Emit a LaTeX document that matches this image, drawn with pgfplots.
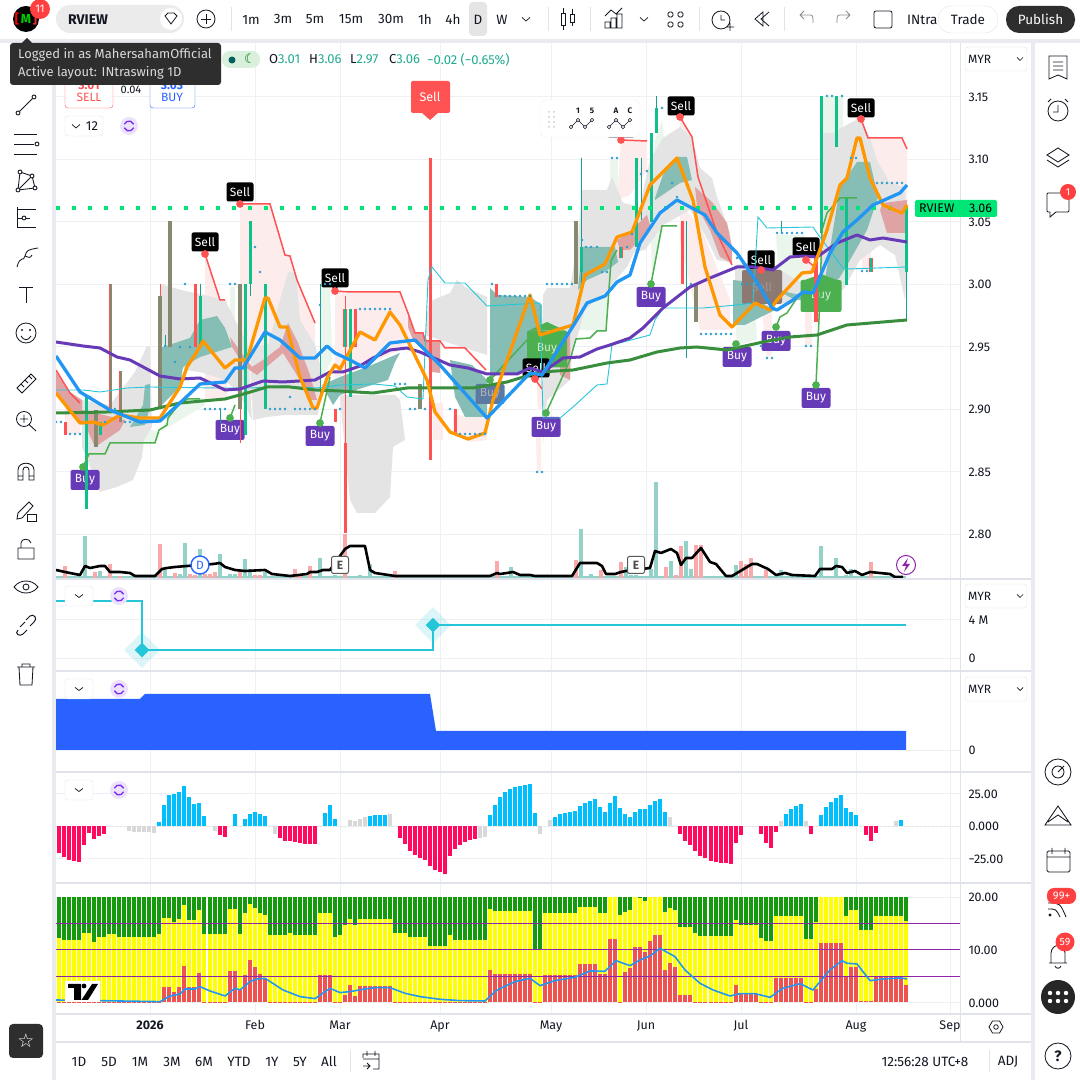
\documentclass[border=0pt]{standalone}
\usepackage{fontspec}
\usepackage{pgfplots}
\usepackage{pgfplotstable}
\pgfplotsset{compat=1.18}
\setmainfont{Fira Sans}
\newfontfamily\djv{DejaVu Sans}
\newcommand{\fs}[1]{\fontsize{#1}{#1}\selectfont}
\definecolor{gridc}{HTML}{EEF0F4}
\definecolor{sep}{HTML}{E0E3EB}
\definecolor{ink}{HTML}{131722}
\definecolor{cgrey}{HTML}{E4E4E4}
\definecolor{cteal}{HTML}{86BEB6}
\definecolor{cred}{HTML}{DFA3A3}
\definecolor{cpink}{HTML}{FDECEC}
\definecolor{clg}{HTML}{EAF5EC}
\definecolor{lblue}{HTML}{2196F3}
\definecolor{lorange}{HTML}{FF9800}
\definecolor{lpurple}{HTML}{673AB7}
\definecolor{lgreen}{HTML}{388E3C}
\definecolor{lcyan}{HTML}{26C6DA}
\definecolor{sred}{HTML}{FF5252}
\definecolor{sgreen}{HTML}{4CAF50}
\definecolor{cand}{HTML}{0FBF8C}
\definecolor{wick}{HTML}{1B9E8F}
\definecolor{vteal}{HTML}{92D2C8}
\definecolor{vred}{HTML}{F9A9A9}
\definecolor{dots}{HTML}{2A9FCF}
\definecolor{tealtxt}{HTML}{22AB94}
\definecolor{hpink}{HTML}{FF0A5F}
\definecolor{hcyan}{HTML}{00BFFF}
\definecolor{hgrey}{HTML}{D8D8DA}
\definecolor{byel}{HTML}{FFFF00}
\definecolor{bgreen}{HTML}{149A0C}
\definecolor{bred}{HTML}{EF5350}
\definecolor{purp}{HTML}{8E24AA}
\definecolor{blue2}{HTML}{2962FF}
\definecolor{syncp}{HTML}{7B2FF0}
\pgfplotsset{pane/.style={anchor=south west,scale only axis,width=904pt,xmin=56,xmax=960,
 xtick={150,255,340,440,551,646,741,856,950},xticklabels=\empty,
 xmajorgrids,ymajorgrids,grid style={color=gridc,line width=.8pt},
 axis line style={draw=none},major tick length=0pt,ytick pos=right,yticklabel pos=right,
 yticklabel style={font=\fs{12.5},text=ink,xshift=5pt,yshift=-.7pt,anchor=west},
 unbounded coords=jump,clip=true}}
\newcommand{\fillP}[2]{\addplot[fill=#1,draw=none,forget plot] coordinates {#2} -- cycle;}
\newcommand{\SellL}[2]{\node[fill=black,rounded corners=2pt,text=white,font=\fs{12},minimum width=27pt,minimum height=19pt,inner sep=0pt] at (axis cs:#1,#2) {Sell};
 \fill[black] (axis cs:#1,#2) ++(-3pt,-9pt) -- ++(6pt,0pt) -- ++(-3pt,-3pt) -- cycle;}
\newcommand{\BuyL}[2]{\node[fill=lpurple,rounded corners=2pt,text=white,font=\fs{12},minimum width=29pt,minimum height=20pt,inner sep=0pt] at (axis cs:#1,#2) {Buy};}
\pgfplotstableread[row sep=\\]{i y r\\
0 12.2 .15\\1 11.8 .15\\2 11.8 .15\\3 11.8 .15\\4 11.8 .15\\5 13.1 .15\\6 13.1 .15\\7 11.5 .15\\8 12.4 .15\\9 12.4 .15\\
10 13 .15\\11 13 .15\\12 12.4 .15\\13 12.4 .15\\14 12.4 .15\\15 12.4 .15\\16 12.4 .15\\17 12.4 .15\\18 12.4 .15\\19 12.4 .15\\
20 13 .15\\21 16 2.9\\22 16 2.9\\23 15.3 2\\24 15.8 2.9\\25 18.5 6.9\\26 15.6 2.9\\27 15.6 2.9\\28 17.5 5.6\\29 13 .15\\
30 13 .15\\31 13 .15\\32 13 .15\\33 13 .15\\34 17.7 6\\35 17.7 6\\36 13 2.5\\37 17 5.2\\38 18.7 8\\39 17.9 6.7\\
40 17 5.3\\41 16.6 4.6\\42 12.8 .15\\43 12.8 .15\\44 12.8 .15\\45 12.8 .15\\46 13.2 .15\\47 12.8 .15\\48 12.8 .15\\49 12.8 .15\\
50 12.8 .15\\51 12.8 .15\\52 17 5.2\\53 17 5.2\\54 17 5.2\\55 12.4 .15\\56 12.8 .15\\57 14.7 1.4\\58 15.8 3.3\\59 14.7 1.2\\
60 15.8 3.1\\61 15.8 3.1\\62 15.8 3.1\\63 15.8 3.1\\64 15.8 3.1\\65 15.8 3.1\\66 15.8 3.1\\67 13.2 .15\\68 13.2 .15\\69 13.2 .15\\
70 12.4 .15\\71 12.4 .15\\72 12.4 .15\\73 12.4 .15\\74 10.7 .15\\75 10.7 .15\\76 10.7 .15\\77 10.7 .15\\78 12.8 .15\\79 11.8 .15\\
80 11.8 .15\\81 11.8 .15\\82 11.8 .15\\83 11.8 .15\\84 11.8 .15\\85 11.8 .15\\86 17.7 6.1\\87 17.3 5.4\\88 17.3 5.4\\89 17.3 5.4\\
90 17.3 5.4\\91 17.3 5.4\\92 17.3 5.4\\93 17.3 5.4\\94 17.3 5.4\\95 10.1 .15\\96 10.1 .15\\97 17 5.2\\98 17 5.2\\99 17 5.2\\
100 17 5.2\\101 17 5.2\\102 17 5.2\\103 17 5.2\\104 18.1 7.2\\105 18.1 7.2\\106 18.1 7.2\\107 18.1 7.2\\108 17 5.4\\109 17 5.4\\
110 20 12\\111 20 12\\112 16.6 .15\\113 17.2 5.7\\114 17.5 6.5\\115 20 10.5\\116 19.8 10.5\\117 19.2 9.6\\118 20 11.6\\119 20 12.8\\
120 20 12.8\\121 17.2 6.1\\122 17.9 7.5\\123 17.5 6.7\\124 14.3 1.4\\125 14.3 1.4\\126 14.3 1.4\\127 13.2 .15\\128 12.6 .15\\129 12.6 .15\\
130 12.6 .15\\131 12.6 .15\\132 12.6 .15\\133 12.6 .15\\134 12.6 .15\\135 15.6 3.3\\136 14.7 1.6\\137 14.7 1.6\\138 14.7 1.6\\139 14.7 1.6\\
140 12.2 .15\\141 11.6 .15\\142 11.6 .15\\143 16.4 4.6\\144 16.4 4.6\\145 16.4 4.6\\146 16.4 4.6\\147 16.4 4.6\\148 16.4 4.6\\149 12 .15\\
150 12 .15\\151 15.3 2.5\\152 20 11.2\\153 20 11.2\\154 20 11.2\\155 20 11.2\\156 20 11.2\\157 16.4 4.8\\158 17.5 6.7\\159 17.5 6.7\\
160 13.7 .25\\161 13.7 .25\\162 13.7 .25\\163 16.4 4.8\\164 16.4 4.8\\165 16.4 4.8\\166 16.4 4.8\\167 16.4 4.8\\168 16.4 4.8\\169 15.4 3.3\\
}\sentiment
\begin{document}
\begin{tikzpicture}[x=1pt,y=1pt]
\clip (0,0) rectangle (1080pt,1080pt);
\fill[white] (0,0) rectangle (1080pt,1080pt);
% ===== main price pane =====
\begin{axis}[pane,at={(56pt,502pt)},height=536pt,ymin=2.7648,ymax=3.1936,
 ytick={2.8,2.85,2.9,2.95,3,3.05,3.1,3.15},yticklabels={2.80,2.85,2.90,2.95,3.00,3.05,3.10,3.15}]
% pink
\fillP{cpink}{(240,3.064)(270,3.064)(285,3.0232)(290,3.0224)(297,3.0032)(315,2.9688)(315,2.9072)(245,2.9072)(240,2.9872)}
\fillP{cpink}{(205,3.024)(220,2.9872)(227,2.9872)(227,2.9072)(205,2.9072)}
\fillP{cpink}{(335,2.9944)(400,2.9936)(408,2.9768)(415,2.9608)(400,2.9472)(335,2.9248)}
\fillP{cpink}{(433,2.9048)(443,2.9048)(443,2.8752)(433,2.8752)}
\fillP{cpink}{(453,2.8952)(487,2.8936)(487,2.8752)(470,2.8736)(453,2.8832)}
\fillP{cpink}{(621,3.1152)(647,3.1144)(647,3.0912)(630,3.0712)(617,3.0672)}
\fillP{cpink}{(680,3.1336)(692,3.1176)(700,3.0912)(690,3.0632)(680,3.0632)}
\fillP{cpink}{(680,3.0632)(700,3.0472)(730,2.9872)(730,2.9632)(700,2.9632)(680,3.0352)}
\fillP{cpink}{(761,2.9872)(772,2.9872)(772,2.9432)(767,2.9416)}
\fillP{cpink}{(805,3.0208)(812,3.0208)(812,2.9512)(805,2.9512)}
\fillP{cpink}{(862,3.0376)(872,3.0352)(870,3.0112)(862,3.0112)}
\fillP{cpink}{(861,3.132)(868,3.1168)(902,3.1168)(907,3.108)(907,3.0672)(890,3.0808)(877,3.0992)}
\fillP{cpink}{(536,2.9288)(542,2.9288)(542,2.8992)(538,2.8992)}
\fillP{cpink}{(536,2.8776)(541,2.8776)(541,2.8504)(537,2.8504)}
\fillP{cpink}{(65,2.9072)(80,2.8888)(80,2.88)(65,2.88)}
% light green
\fillP{clg}{(230,2.9976)(235,2.9976)(235,2.9288)(230,2.9288)}
\fillP{clg}{(110,2.8728)(155,2.8728)(168,2.8928)(185,2.9072)(205,2.9088)(205,2.9032)(160,2.8816)(110,2.8912)}
\fillP{clg}{(320,2.9992)(330,2.9992)(332,2.9392)(320,2.9232)}
\fillP{clg}{(578,2.9632)(606,2.9624)(612,3.0192)(617,3.0272)(617,3.0176)(605,3.0096)(580,3.0008)}
\fillP{clg}{(610,3.0992)(618,3.0992)(617,3.0352)(610,3.0192)}
\fillP{clg}{(655,3.1152)(662,3.1312)(666,3.0992)(662,3.0464)(652,3.0032)(650,3.0752)}
\fillP{clg}{(735,2.9712)(755,2.9792)(757,2.9552)(737,2.9512)}
\fillP{clg}{(776,3.0392)(805,3.0392)(805,2.9992)(780,2.9872)}
\fillP{clg}{(822,3.1504)(843,3.1504)(843,3.1256)(822,3.1152)}
% grey
\fillP{cgrey}{(82,2.9072)(110,2.9032)(135,2.9296)(147,2.9504)(150,2.9496)(152,2.8856)(144,2.8752)(142,2.8616)(133,2.8432)(117,2.8376)(100,2.8336)(82,2.8696)}
\fillP{cgrey}{(160,3)(185,2.9944)(200,2.992)(225,2.9872)(235,2.9712)(248,2.9512)(252,2.8912)(240,2.9112)(225,2.9232)(200,2.9296)(185,2.9312)(165,2.9512)(160,2.9512)}
\fillP{cgrey}{(250,2.9504)(268,2.9512)(280,2.9872)(288,3.0096)(296,3.0088)(300,2.9712)(315,2.9512)(322,2.9296)(318,2.8952)(285,2.8952)(267,2.8936)(253,2.8912)}
\fillP{cgrey}{(340,2.9112)(395,2.9112)(400,2.9072)(405,2.8752)(393,2.8696)(390,2.8296)(375,2.8168)(357,2.8168)(350,2.8272)(343,2.8832)}
\fillP{cgrey}{(428,2.9816)(433,2.9872)(450,2.9928)(457,3.0032)(465,2.9976)(487,2.9896)(487,2.9432)(465,2.9488)(440,2.9552)(425,2.9592)}
\fillP{cgrey}{(543,2.9912)(547,2.9968)(570,2.9968)(578,3.0352)(582,3.0752)(607,3.0752)(612,3.0856)(623,3.0648)(640,3.0616)(640,3.0352)(627,3.0136)(607,2.9952)(585,2.9792)(572,2.9432)(570,2.9232)(547,2.9072)(543,2.8712)}
\fillP{cgrey}{(630,3.0248)(640,3.0632)(650,3.0992)(663,3.1168)(680,3.1256)(692,3.1168)(700,3.0928)(712,3.0848)(717,3.0696)(730,3.0408)(732,3.0168)(717,3.0192)(705,3.0392)(690,3.0592)(663,3.0472)(645,3.0272)}
\fillP{cgrey}{(820,2.9872)(822,3.1208)(833,3.1208)(843,3.1256)(860,3.1328)(870,3.1168)(877,3.0992)(890,3.0808)(905,3.0776)(907,3.0112)(905,2.9872)(895,3.0232)(880,3.0312)(860,3.0192)(843,2.9952)}
\fillP{cgrey}{(735,3.0152)(755,3.0176)(780,3.0112)(805,2.9992)(800,2.9872)(775,2.9832)(735,2.9952)}
% teal
\fillP{cteal}{(130,2.8856)(143,2.9032)(145,2.9192)(150,2.92)(150,2.9016)(145,2.8872)}
\fillP{cteal}{(160,2.9488)(190,2.9568)(200,2.9712)(217,2.9744)(225,2.9648)(232,2.9496)(200,2.9416)(183,2.9336)(180,2.9176)(160,2.9016)}
\fillP{cteal}{(322,2.9192)(340,2.9256)(367,2.9336)(400,2.9448)(395,2.9376)(388,2.9232)(340,2.9112)(333,2.9032)}
\fillP{cteal}{(450,2.9392)(472,2.9352)(487,2.9232)(487,2.8936)(465,2.8936)(455,2.9096)}
\fillP{cteal}{(490,2.9968)(497,2.9912)(530,2.9896)(542,2.9832)(543,2.9392)(533,2.9296)(500,2.928)(490,2.9248)}
\fillP{cteal}{(578,2.9952)(582,3.0296)(615,3.0296)(618,3.0176)(605,3.0096)(587,3.0032)}
\fillP{cteal}{(655,3.0688)(663,3.0872)(677,3.1016)(687,3.1016)(692,3.0832)(680,3.0808)(655,3.0672)}
\fillP{cteal}{(733,3.0032)(760,3.0008)(765,2.9832)(775,2.9792)(745,2.9672)(733,2.9672)}
\fillP{cteal}{(777,2.9952)(800,2.9912)(812,2.9872)(795,2.9872)}
\fillP{cteal}{(823,2.9936)(840,3.0776)(857,3.0976)(870,3.0976)(878,3.0696)(867,3.0432)(850,3.0192)(840,3.0056)(827,2.9952)}
% red
\fillP{cred}{(56,2.9296)(70,2.9136)(82,2.9072)(82,2.8992)(125,2.8912)(120,2.8832)(95,2.8696)(85,2.8872)(80,2.8888)(56,2.9128)}
\fillP{cred}{(230,2.9576)(252,2.9336)(263,2.9392)(280,2.9496)(288,2.9688)(298,2.9528)(310,2.9272)(317,2.9072)(308,2.9072)(300,2.9232)(283,2.9448)(257,2.9272)(245,2.9336)(232,2.9496)}
\fillP{cred}{(408,2.9768)(415,2.9608)(423,2.9608)(427,2.9552)(440,2.9544)(440,2.9288)(432,2.9296)(427,2.9448)(413,2.9552)(408,2.9656)}
\fillP{cred}{(617,3.0352)(630,3.0416)(647,3.0552)(650,3.0472)(640,3.0352)(630,3.0272)(620,3.0272)}
\fillP{cred}{(695,3.0776)(712,3.0656)(727,3.0488)(732,3.0296)(732,3.0168)(720,3.0216)(710,3.0432)(697,3.0616)}
\fillP{sred}{(761,3.0112)(781,3.0112)(781,2.9936)(761,2.9936)}
\fillP{cred}{(883,3.0648)(907,3.0672)(907,3.0408)(887,3.0408)(880,3.0592)}
\fillP{cred}{(560,2.9552)(570,2.9608)(570,2.9232)(560,2.9272)}
% labels
\fillP{sgreen}{(530,2.9632)(547,2.9696)(564,2.9632)}
\fillP{sgreen}{(805,3.0032)(821,3.008)(837,3.0032)}
\node[fill={rgb,255:red,76;green,175;blue,80},rounded corners=2pt,text=white!75!sgreen,font=\fs{12},minimum width=40pt,minimum height=37pt,inner sep=0pt] at (axis cs:547,2.948) {Buy};
\node[fill={rgb,255:red,76;green,175;blue,80},rounded corners=2pt,text=white!75!sgreen,font=\fs{12},minimum width=41pt,minimum height=32pt,inner sep=0pt] at (axis cs:821,2.9904) {Buy};
\node[fill={rgb,255:red,140;green,122;blue,114},rounded corners=2pt,text=white!60!black,font=\fs{12},minimum width=40pt,minimum height=34pt,inner sep=0pt] at (axis cs:762,2.9976) {Sell};
\node[fill={rgb,255:red,91;green,121;blue,163},rounded corners=2pt,text=white!70!black,font=\fs{12},minimum width=29pt,minimum height=20pt,inner sep=0pt] at (axis cs:490,2.912) {Buy};
\BuyL{85}{2.8432}\BuyL{230}{2.8832}\BuyL{320}{2.8784}\BuyL{546}{2.8856}\BuyL{651}{2.9896}\BuyL{737}{2.9416}\BuyL{776}{2.9544}\BuyL{816}{2.9088}
\SellL{205}{3.0336}\SellL{240}{3.0736}\SellL{335}{3.0048}\SellL{536}{2.9328}\SellL{621}{3.1248}\SellL{681}{3.1424}\SellL{761}{3.0192}\SellL{806}{3.0296}\SellL{861}{3.1408}
% candles
\addplot[color=wick,line width=1pt,forget plot] coordinates {(200,3)(200,2.99)(200,nan)(250,3)(250,2.9904)(250,nan)(320,3)(320,2.9096)(320,nan)(581,3.1008)(581,3.0008)(581,nan)(641,3.1008)(641,3.0512)(641,nan)(656,3.1504)(656,3.1408)(656,nan)(686,3.0504)(686,2.9408)(686,nan)(781,3.0504)(781,3.0408)(781,nan)(906,3.0096)(906,2.9712)(906,nan)(165,2.9592)(165,2.9496)(165,nan)(220,2.9)(220,2.8888)};
\addplot[color=sred,line width=1pt,forget plot] coordinates {(160,3)(160,2.9904)(160,nan)(240,2.9)(240,2.8728)(240,nan)(345,2.9904)(345,2.8008)(345,nan)(816,3.0208)(816,2.9696)};
\addplot[color=cand,line width=3pt,forget plot] coordinates {(86,2.9096)(86,2.82)(86,nan)(100,2.8896)(100,2.8792)(100,nan)(200,2.9904)(200,2.9496)(200,nan)(245,3)(245,2.8792)(245,nan)(250,3.0504)(250,3)(250,nan)(265,3)(265,2.9)(265,nan)(350,2.98)(350,2.9096)(350,nan)(581,3.0296)(581,3.0096)(581,nan)(636,3.1008)(636,3.0296)(636,nan)(651,3.1208)(651,3.0496)(651,nan)(656,3.1408)(656,3.1208)(656,nan)(821,3.1504)(821,3.0408)(821,nan)(836,3.1504)(836,3.1096)(836,nan)(846,3.0696)(846,2.9992)(846,nan)(906,3.0592)(906,3.0096)};
\addplot[color=sred,line width=3.2pt,forget plot] coordinates {(110.6,3)(110.6,2.9)(110.6,nan)(120.6,2.9304)(120.6,2.8896)(120.6,nan)(96,2.8992)(96,2.8696)(96,nan)(160,2.9904)(160,2.9)(160,nan)(170,3.0504)(170,2.9496)(170,nan)(195.6,3)(195.6,2.9496)(195.6,nan)(240,3)(240,2.9)(240,nan)(345,2.98)(345,2.9496)(345,nan)(420,2.92)(420,2.9)(420,nan)(576,3.0504)(576,3)(576,nan)(621,3.0296)(621,3.0208)(621,nan)(696,3)(696,2.9696)(696,nan)(816,3.0208)(816,2.9696)(816,nan)(871,3.0208)(871,3.0096)};
\addplot[color=cand,line width=1.6pt,forget plot] coordinates {(110.6,3)(110.6,2.9)(110.6,nan)(120.6,2.9304)(120.6,2.8896)(120.6,nan)(96,2.8992)(96,2.8696)(96,nan)(160,2.9904)(160,2.9)(160,nan)(170,3.0504)(170,2.9496)(170,nan)(240,3)(240,2.9)(240,nan)(345,2.98)(345,2.9496)(345,nan)(420,2.92)(420,2.9)(420,nan)(576,3.0504)(576,3)(576,nan)(621,3.0296)(621,3.0208)(621,nan)(696,3)(696,2.9696)(696,nan)(871,3.0208)(871,3.0096)};
\addplot[color=sred,line width=3pt,forget plot] coordinates {(65,2.8896)(65,2.8792)(65,nan)(335,2.9)(335,2.8896)(335,nan)(355,2.98)(355,2.9496)(355,nan)(430,3.1008)(430,2.8592)(430,nan)(455,2.9)(455,2.8792)(455,nan)(496,3)(496,2.9896)(496,nan)(682,3.0504)(682,3)(682,nan)(345,2.8728)(345,2.8008)};
% dots
\addplot[only marks,mark=*,mark size=1.2pt,color=dots,mark options={draw=none},forget plot] coordinates {(56,2.8896)(61,2.8896)(70,2.88)(75,2.88)(80,2.88)(90,2.9096)(105,2.8896)(115,2.9)(125,2.8896)(130,2.8896)(165,2.9504)(175,2.9376)(180,2.9496)(190,2.9496)(185,3)(230,3)(235,3)(255,3.0296)(260,3.0096)(205,2.9)(210,2.9)(215,2.9)(220,2.9)(225,2.9)(270,2.9)(275,2.9)(280,2.9)(285,2.9)(295,2.9)(300,2.9)(305,2.9)(310,2.9)(315,2.9)(320,2.9832)(325,3)(330,3)(290,2.9096)(340,2.9)(360,2.98)(365,2.98)(370,2.98)(375,2.98)(380,2.98)(385,2.98)(390,2.98)(395,2.92)(400,2.92)(405,2.92)(410,2.9)(415,2.9)(425,2.9)(450,2.9)(460,2.88)(465,2.88)(470,2.88)(475,2.88)(480,2.88)(485,2.88)(492,3)(500,2.9904)(505,2.9904)(510,2.9904)(515,2.9904)(520,2.9904)(525,2.9904)(530,2.9904)(547,3)(552,3)(557,3)(562,3)(567,3)(572,3)(582,3.0352)(586,3.0296)(591,3.0296)(597,3.0296)(602,3.0096)(607,3.0096)(612,3.1008)(617,3.1008)(627,3.0296)(632,3.04)(537,2.8496)(542,2.8496)(641,3.088)(647,3.0904)(662,3.1408)(672,3.0808)(677,3.0696)(691,3)(701,2.96)(706,2.96)(711,2.96)(716,2.96)(721,2.96)(726,2.96)(731,2.96)(737,3.0208)(742,3)(747,3)(752,3)(761,2.9504)(767,2.9408)(772,2.9408)(777,3.0408)(782,3.0408)(787,3.0408)(792,3.0408)(797,3.0408)(802,3.0408)(806,2.9504)(811,2.9504)(827,3.1504)(832,3.1504)(842,3.1504)(851,3.1008)(856,3.1008)(862,3.0104)(867,3.0104)(877,3.0808)(882,3.0808)(887,3.0808)(892,3.0808)(897,3.0808)(902,3.0808)};
% 3.06 level
\addplot[color={rgb,255:red,0;green,230;blue,118},line width=4pt,dash pattern=on 4pt off 12pt,forget plot] coordinates {(56,3.0608)(960,3.0608)};
% trailing lines
\addplot[color=sred,line width=1.5pt,forget plot] coordinates {(56,2.9312)(70,2.9128)(80,2.9048)(80,nan)(205,3.024)(220,2.9872)(225,2.9872)(225,nan)(240,3.064)(270,3.064)(285,3.0232)(290,3.0224)(297,3.0032)(315,2.9688)(315,nan)(335,2.9944)(350,2.9936)(400,2.9936)(408,2.9768)(415,2.9608)(423,2.9608)(425,2.9544)(440,2.9544)(445,2.9488)(465,2.9488)(486,2.9312)(486,nan)(535,2.924)(542,2.916)(542,nan)(621,3.1152)(647,3.1144)(647,nan)(680,3.1336)(692,3.1176)(698,3.0856)(717,3.0408)(732,3.0152)(732,nan)(806,3.0192)(815,3.0136)(815,nan)(861,3.132)(868,3.1168)(902,3.1168)(907,3.108)};
\addplot[color=sgreen,line width=1.5pt,forget plot] coordinates {(83,2.8536)(89,2.864)(105,2.864)(110,2.8728)(155,2.8728)(159,2.8832)(167,2.8872)(168,2.8928)(180,2.9048)(188,2.908)(200,2.908)(200,nan)(230,2.8928)(235,2.9032)(235,nan)(320,2.8888)(330,2.9256)(330,nan)(490,2.9232)(527,2.9552)(527,nan)(546,2.8968)(570,2.9392)(576,2.956)(590,2.9568)(597,2.9624)(606,2.9624)(611,3.0184)(617,3.0272)(617,nan)(651,3)(662,3.0464)(677,3.0464)(677,nan)(776,2.9656)(780,2.9736)(787,2.9768)(797,2.9888)(797,nan)(816,2.9192)(820,2.9896)(822,3.0432)(827,3.0568)(840,3.0688)(857,3.0688)};
\addplot[only marks,mark=*,mark size=3.6pt,color=sred,mark options={draw=none},forget plot] coordinates {(205,3.024)(240,3.064)(335,2.9944)(535,2.924)(621,3.1152)(680,3.1336)(761,3.0112)(806,3.0192)(861,3.132)};
\addplot[only marks,mark=*,mark size=3.6pt,color=sgreen,mark options={draw=none},forget plot] coordinates {(83,2.8536)(230,2.8928)(320,2.8888)(490,2.9232)(546,2.8968)(651,3)(736,2.952)(776,2.9656)(816,2.9192)};
% thin channel
\addplot[color=lcyan,line width=.9pt,forget plot] coordinates {(56,2.9152)(83,2.9152)(100,2.9136)(127,2.9168)(150,2.9176)(217,2.9168)(250,2.9168)(283,2.9184)(317,2.9168)(340,2.9192)(373,2.92)(395,2.9184)(407,2.9096)(423,2.908)(428,3.0032)(432,3.0136)(445,3.0008)(465,3.0008)(487,2.9824)(540,2.9848)(543,2.8928)(560,2.8928)(573,2.9016)(597,2.9192)(607,2.92)(612,2.9512)(650,2.9592)(655,2.9712)(663,2.9808)(703,2.9808)(737,2.9832)(753,2.9848)(758,3.0536)(767,3.0448)(813,3.0456)(817,3.0408)(843,3.0128)(847,3.012)(907,3.0136)};
% moving averages
\addplot[color=lgreen,line width=3pt,line join=round,forget plot] coordinates {(56,2.8968)(107,2.8976)(150,2.8992)(180,2.9048)(225,2.908)(247,2.9128)(267,2.9176)(290,2.9176)(315,2.9152)(340,2.9144)(373,2.9128)(407,2.9168)(473,2.9168)(507,2.9216)(540,2.9296)(573,2.9312)(607,2.9368)(630,2.9392)(657,2.9456)(680,2.9488)(697,2.9496)(727,2.9472)(763,2.9536)(790,2.9576)(817,2.9592)(847,2.9672)(907,2.9712)};
\addplot[color=lpurple,line width=3pt,line join=round,forget plot] coordinates {(56,2.9536)(83,2.9504)(100,2.9488)(117,2.9416)(130,2.9392)(160,2.9264)(180,2.924)(200,2.9248)(225,2.9152)(240,2.916)(263,2.9224)(283,2.9216)(315,2.9232)(330,2.9296)(343,2.9296)(360,2.9344)(373,2.9408)(390,2.9472)(407,2.9488)(420,2.9456)(450,2.9352)(468,2.9328)(487,2.928)(517,2.928)(530,2.9328)(543,2.9296)(563,2.9408)(580,2.9416)(597,2.948)(610,2.9512)(630,2.9568)(643,2.9648)(663,2.9808)(690,2.9976)(710,3.0048)(737,3.0136)(753,3.0136)(773,3.0112)(790,3.0216)(803,3.0224)(817,3.0216)(837,3.0328)(857,3.0392)(870,3.0352)(883,3.0368)(907,3.0336)};
\addplot[color=lorange,line width=3.3pt,line join=round,forget plot] coordinates {(56,2.9128)(80,2.8888)(93,2.8896)(103,2.8872)(120,2.8952)(140,2.8928)(160,2.8928)(180,2.9176)(187,2.9336)(198,2.9472)(203,2.9544)(225,2.9328)(235,2.9392)(247,2.9392)(265,2.9888)(268,2.9888)(280,2.9656)(287,2.9656)(300,2.9256)(313,2.9008)(317,2.9008)(327,2.9248)(335,2.9352)(340,2.932)(360,2.9616)(375,2.9552)(390,2.9776)(400,2.9672)(427,2.9232)(435,2.8976)(450,2.8816)(468,2.876)(485,2.8808)(493,2.9072)(530,2.9912)(540,2.9592)(573,2.9672)(585,3.0072)(605,3.016)(617,3.0376)(632,3.0416)(650,3.0792)(665,3.0912)(677,3.1008)(693,3.0672)(705,3.0136)(720,2.9752)(732,2.9656)(755,2.9848)(770,2.9792)(777,2.9872)(802,3.0088)(812,3.0096)(827,3.0432)(840,3.0792)(847,3.0848)(852,3.1008)(857,3.1168)(860,3.1168)(870,3.0848)(883,3.0632)(902,3.0568)(907,3.0632)};
\addplot[color=lblue,line width=3.3pt,line join=round,forget plot] coordinates {(56,2.9424)(80,2.9136)(110,2.8992)(140,2.8896)(160,2.8904)(180,2.9048)(200,2.92)(225,2.9216)(235,2.9328)(243,2.9328)(265,2.9616)(280,2.9552)(300,2.9408)(315,2.9408)(327,2.9504)(335,2.9448)(350,2.9392)(365,2.9328)(390,2.9528)(415,2.9552)(440,2.9352)(487,2.8928)(530,2.9288)(542,2.9272)(575,2.9688)(587,2.9848)(605,2.9904)(617,3.0016)(630,3.0072)(640,3.0328)(660,3.0568)(677,3.0672)(705,3.0552)(717,3.0408)(737,3.0248)(757,3.0016)(772,2.9808)(777,2.9792)(793,2.9872)(803,2.9936)(813,2.9928)(830,3.0248)(843,3.0416)(857,3.0512)(873,3.0632)(900,3.0728)(907,3.0792)};
\end{axis}
% ===== volume overlay =====
\begin{axis}[at={(56pt,502pt)},anchor=south west,scale only axis,width=904pt,height=536pt,xmin=56,xmax=960,ymin=0,ymax=536,hide axis,clip=true]
\addplot[color=vteal,line width=1.6pt,forget plot] coordinates {(56,.8)(906,.8)};
\addplot[ycomb,color=vred,line width=4pt,forget plot] coordinates {(65,12)(95,6)(110,14)(120,2)(160,34)(175,5)(190,4)(195,3)(205,4)(210,4)(215,6)(240,8)(255,3)(260,3)(295,9)(300,4)(310,12)(345,44)(395,7)(497,17)(576,18)(601,8)(621,16)(666,11)(676,3)(681,32)(696,33)(701,33)(741,17)(746,14)(751,20)(766,8)(871,16)};
\addplot[ycomb,color=vteal,line width=4pt,forget plot] coordinates {(85,42)(100,7)(165,8)(180,4)(185,35)(200,29)(220,24)(230,4)(235,4)(245,19)(250,9)(265,6)(320,20)(335,3)(360,3)(370,14)(511,11)(581,49)(591,4)(626,11)(631,3)(636,3)(651,9)(656,96)(671,17)(686,37)(691,9)(736,13)(781,8)(821,32)(836,20)(846,3)(851,9)};
\addplot[color=black,line width=2.6pt,line join=round,forget plot] coordinates {(56,8)(65,6)(80,3)(85,12)(90,10)(100,12)(105,12)(110,6)(120,6)(130,5)(135,2)(155,2)(162,9)(167,10)(175,11)(187,12)(213,14)(220,15)(225,11)(235,8)(245,7)(265,8)(272,4)(290,2)(307,4)(310,6)(317,6)(323,8)(330,8)(345,29)(350,32)(365,32)(370,8)(375,5)(395,2)(405,2)(490,2)(497,5)(500,4)(507,5)(513,6)(520,3)(530,3)(535,2)(572,2)(580,15)(597,15)(602,12)(606,4)(615,4)(621,6)(626,7)(650,10)(655,27)(661,25)(671,29)(677,25)(681,13)(686,20)(692,20)(701,30)(710,16)(716,14)(726,2)(732,2)(752,14)(757,14)(768,9)(776,3)(785,5)(792,3)(815,2)(820,9)(832,9)(836,12)(842,11)(847,5)(855,7)(862,3)(870,6)(890,4)(895,1)(903,1)};
\node[circle,fill=white,draw=blue2,line width=1.4pt,minimum size=18pt,inner sep=0pt,text=blue2,font=\fs{12}] at (axis cs:200,13) {D};
\node[rectangle,rounded corners=2pt,fill=white,draw=black!65,line width=1pt,minimum size=17pt,inner sep=0pt,text=black!70,font=\bfseries\fs{12}] at (axis cs:340,13) {E};
\node[rectangle,rounded corners=2pt,fill=white,draw=black!65,line width=1pt,minimum size=17pt,inner sep=0pt,text=black!70,font=\bfseries\fs{12}] at (axis cs:636,13) {E};
\node[circle,fill=white,draw=purp,line width=1pt,minimum size=19pt,inner sep=0pt] at (axis cs:906,13) {};
\end{axis}
% ===== pane 2 =====
\begin{axis}[pane,at={(56pt,409pt)},height=91pt,ymin=-1.333,ymax=8,ytick={0,4},yticklabels={0,4 M}]
\addplot[color=lcyan,line width=1.6pt,forget plot] coordinates {(56,5.85)(142,5.85)(142,.82)(433,.82)(433,3.38)(906,3.38)};
\addplot[only marks,mark=diamond*,mark size=18pt,color=lcyan,mark options={xscale=1.33,rounded corners=5pt,fill opacity=.16,draw opacity=0},forget plot] coordinates {(142,.82)(433,3.38)};
\addplot[only marks,mark=diamond*,mark size=7pt,color=lcyan,mark options={xscale=1.33},forget plot] coordinates {(142,.82)(433,3.38)};
\end{axis}
% ===== pane 3 =====
\begin{axis}[pane,at={(56pt,308pt)},height=100pt,ymin=-22,ymax=78,ytick={0},yticklabels={0}]
\addplot[fill=blue2,draw=none,forget plot] coordinates {(56,0)(56,51)(140,51)(145,56)(430,56)(436,19)(906,19)(906,0)} -- cycle;
\end{axis}
% ===== pane 4 =====
\begin{axis}[pane,at={(56pt,197pt)},height=110pt,ymin=-43.8,ymax=40.8,ytick={-25,0,25},yticklabels={−25.00,0.000,25.00}]
\addplot[color=hgrey!70,line width=.8pt,dash pattern=on 2pt off 2pt,forget plot] coordinates {(56,0)(960,0)};
\addplot[ycomb,color=hcyan,line width=4pt,forget plot] table[x expr=59.2+5.01*\thisrow{i},y=v,row sep=\\]{i v\\
20 3.3\\21 16.2\\22 23.8\\23 24.6\\24 26.2\\25 30.8\\26 22.3\\27 16.9\\28 17.7\\29 7.7\\35 9.2\\37 5.4\\38 9.2\\39 10.8\\40 9.2\\41 7.7\\53 10\\54 16.2\\55 5.4\\62 7.7\\63 8.5\\64 8.5\\65 8.5\\
86 8.5\\87 16.2\\88 22.1\\89 26.2\\90 28.5\\91 29.7\\92 30.8\\93 31.3\\94 32.3\\95 10\\99 6.9\\100 9.2\\101 10\\102 10.8\\103 11.5\\104 15.4\\105 17.7\\106 19.2\\107 20.8\\108 14.6\\109 10.8\\110 17.7\\111 23.1\\112 13.8\\113 9.2\\114 6.9\\115 10.8\\116 13.1\\117 13.1\\118 16.2\\119 19.2\\120 20.8\\121 10.8\\
145 9.2\\146 13.1\\147 15.4\\148 16.9\\152 8.5\\153 14.6\\154 18.5\\155 21.5\\156 23.8\\157 13.8\\158 10.8\\159 8.5\\168 4.6\\};
\addplot[ycomb,color=hgrey,line width=4pt,forget plot] table[x expr=59.2+5.01*\thisrow{i},y=v,row sep=\\]{i v\\
14 -3.8\\15 -4.6\\16 -4.6\\17 -4.6\\18 -4.6\\19 -5.1\\31 -3.8\\43 -6.2\\58 4.6\\59 3.8\\60 5.4\\61 6.9\\66 9.2\\84 -9.2\\85 -8.5\\96 -5.9\\98 4.6\\122 6.9\\144 3.8\\149 3.8\\167 3.8\\};
\addplot[ycomb,color=hpink,line width=4pt,forget plot] table[x expr=59.2+5.01*\thisrow{i},y=v,row sep=\\]{i v\\
0 -21\\1 -24.1\\2 -26.2\\3 -26.7\\4 -27.4\\5 -14.6\\6 -5.1\\7 -10\\8 -7.7\\9 -6.2\\32 -6.9\\33 -8.2\\44 -9.2\\45 -11.5\\46 -11.5\\47 -12.3\\48 -12.8\\49 -13.8\\50 -13.8\\51 -13.8\\
68 -9.2\\69 -13.8\\70 -19.2\\71 -22.3\\72 -24.6\\73 -26.2\\74 -30.8\\75 -33.8\\76 -35.4\\77 -36.9\\78 -23.1\\79 -17.7\\80 -14.6\\81 -12.3\\82 -10.8\\83 -10\\
124 -6.2\\125 -11.5\\126 -14.6\\127 -19.2\\128 -23.1\\129 -24.6\\130 -26.9\\131 -27.7\\132 -28.2\\133 -28.5\\134 -29.2\\135 -13.1\\136 -6.9\\140 -6.2\\141 -13.1\\142 -16.9\\143 -4.6\\150 -6.2\\161 -6.9\\162 -11.5\\163 -5.4\\};
\end{axis}
% ===== pane 5 =====
\begin{axis}[pane,at={(56pt,67pt)},height=129pt,ymin=-2.03,ymax=22.46,ytick={0,10,20},yticklabels={0.000,10.00,20.00},
 xticklabels={\textbf{2026},Feb,Mar,Apr,May,Jun,Jul,Aug,Sep},xticklabel style={font=\fs{12.5},text=ink,yshift=-4pt}]
\addplot[ycomb,color=bgreen,line width=4pt,forget plot] table[x expr=59.2+5.01*\thisrow{i},y expr=20] {\sentiment};
\addplot[ycomb,color=byel,line width=4pt,forget plot] table[x expr=59.2+5.01*\thisrow{i},y=y] {\sentiment};
\addplot[ycomb,color=bred,line width=4pt,forget plot] table[x expr=59.2+5.01*\thisrow{i},y=r] {\sentiment};
\addplot[color=purp,line width=.9pt,forget plot] coordinates {(56,5)(960,5)};
\addplot[color=purp,line width=.9pt,forget plot] coordinates {(56,10)(960,10)};
\addplot[color=purp,line width=.9pt,forget plot] coordinates {(56,15)(960,15)};
\addplot[color=lblue,line width=1.6pt,line join=round,forget plot] coordinates {(56,.44)(160,.13)(170,1.2)(180,1.58)(185,2.53)(195,2.53)(200,2.97)(210,2.15)(225,1.2)(235,2.66)(240,2.34)(250,3.92)(257,4.43)(265,4.56)(283,2.34)(300,1.08)(315,.7)(330,2.66)(340,1.84)(350,2.03)(365,2.53)(375,2.78)(390,2.78)(405,1.71)(420,1.08)(440,.57)(460,.32)(485,.25)(495,2.03)(500,2.6)(515,3.92)(530,4.56)(540,3.16)(555,4.11)(575,4.75)(590,5.95)(605,5.89)(616,7.91)(630,6.96)(640,8.04)(650,8.8)(660,10.25)(675,8.67)(685,6.14)(700,3.61)(713,2.34)(730,1.2)(740,1.65)(755,1.65)(770,.95)(783,2.66)(800,3.54)(813,2.34)(830,6.14)(842,7.91)(847,7.41)(857,7.28)(870,4.11)(883,4.43)(900,4.62)(907,4.43)};
\end{axis}
% ===== chrome =====
\begin{scope}[shift={(0,1080pt)},x=1pt,y=-1pt,every node/.style={inner sep=0pt,text=ink}]
% bars and strips
\fill[white] (0,0) rectangle (1080,39);
\fill[white] (0,39) rectangle (52,1080);
\fill[white] (1035,39) rectangle (1080,1080);
\fill[white] (56,1042) rectangle (1032,1080);
\fill[white] (960.6,42) rectangle (1031,62);
\fill[sep!70] (0,39) rectangle (1080,43);
\fill[sep!70] (52,39) rectangle (56,1080);
\fill[sep!70] (1031,39) rectangle (1035,1080);
\foreach \y in {579,671,772,883,1014,1042} \draw[sep,line width=1.2pt] (56,\y)--(1031,\y);
\draw[sep,line width=1pt] (960,43)--(960,1042);
\foreach \y/\t in {59/,596/,689/} {\draw[sep,fill=white,rounded corners=3pt] (965,\y-12) rectangle (1027,\y+12);
 \node[anchor=west,font=\fs{12}] at (968,\y) {MYR};
 \draw[ink,line width=.7pt] (1017,\y-1.5)--(1020,\y+1.5)--(1023,\y-1.5);}
\fill[white] (960.6,1015) rectangle (1031,1041);
% gear
\draw[ink,line width=.8pt] (989,1027)--(992.5,1021)--(999.5,1021)--(1003,1027)--(999.5,1033)--(992.5,1033)--cycle;
\draw[ink,line width=.8pt] (996,1027) circle (2.3);
% top bar
\fill[black] (26,19) circle (13);
\node[font=\bfseries\fs{13},text=green!80!black] at (26,19) {M};
\node[font=\bfseries\fs{13},text=red] at (17,18.5) {[};
\node[font=\bfseries\fs{13},text={rgb,255:red,240;green,40;blue,40}] at (35,18.5) {]};
\fill[red!75!white] (40,9) circle (10);
\node[font=\fs{11},text=white] at (40,9) {11};
\fill[black!8,rounded corners=14pt] (56,5) rectangle (184,33);
\node[anchor=west,font=\bfseries\fs{14}] at (68,19.5) {RVIEW};
\fill[white] (171,19) circle (11);
\draw[ink,line width=.8pt] (165,16)--(168,13)--(174,13)--(177,16)--(171,24)--cycle;
\draw[ink,line width=.8pt] (206,19) circle (9);
\draw[ink,line width=.8pt] (201,19)--(211,19) (206,14)--(206,24);
\draw[sep] (231,7)--(231,31) (548,7)--(548,31) (590,7)--(590,31) (699,7)--(699,31) (784,7)--(784,31);
\fill[black!10,rounded corners=4pt] (469,2) rectangle (487,36);
\foreach \x/\t in {251/1m,283/3m,315/5m,351/15m,391/30m,425/1h,453/4h,478/D,502/W} \node[font=\fs{13.5}] at (\x,19.5) {\t};
\draw[ink,line width=.7pt] (522,17.5)--(526,21)--(530,17.5);
\draw[ink,line width=.8pt] (561,13) rectangle (565,25) (563,8)--(563,13) (563,25)--(563,30) (570,14) rectangle (574,22) (572,9)--(572,14) (572,22)--(572,26);
\draw[ink,line width=.8pt] (605,28) rectangle (610,22) (611,28) rectangle (616,18) (617,28) rectangle (622,14) (605,16)--(611,10)--(616,14)--(622,8);
\draw[ink,line width=.7pt] (640,17.5)--(644,21)--(648,17.5);
\draw[ink,line width=.8pt,rounded corners=1.5pt] (668,12) rectangle (673,17) (678,12) rectangle (683,17) (668,22) rectangle (673,27) (678,22) rectangle (683,27);
\draw[ink,line width=.8pt] (721,20) circle (9) (721,15)--(721,20)--(725,20) (726,27)--(734,27) (730,23)--(730,31);
\draw[ink,line width=.8pt] (763,12)--(755,19)--(763,26)--cycle (769,12)--(761,19)--(769,26);
\draw[black!45,line width=.8pt] (800,15)--(804,11) (800,15)--(804,19) (800,15)--(808,15)..controls(813,15)..(813,23);
\draw[black!45,line width=.8pt] (850,15)--(846,11) (850,15)--(846,19) (850,15)--(842,15)..controls(837,15)..(837,23);
\draw[ink,line width=.8pt,rounded corners=2pt] (874,11) rectangle (892,28);
\node[anchor=west,font=\fs{13.5}] at (907,19.5) {INtra};
\draw[sep,fill=white,rounded corners=13pt] (938,6) rectangle (998,33);
\node[font=\fs{13.5}] at (968,19.5) {Trade};
\fill[black!82,rounded corners=13pt] (1006,6) rectangle (1075,33);
\node[font=\fs{13.5},text=white] at (1040.5,19.5) {Publish};
% legend
\fill[cyan!10!green!15,rounded corners=8pt] (222,51) rectangle (260,68);
\fill[teal!75!black] (232,60) circle (3.5);
\node[font=\djv\fs{13},text=green!45!black] at (250,59) {☾};
\foreach \x/\a/\b in {269/O/3.01,309/H/3.06,350/L/2.97,389/C/3.06} \node[anchor=west,font=\fs{13}] at (\x,59.5) {\a{\color{tealtxt}\b}};
\node[anchor=west,font=\fs{13},text=tealtxt] at (427,59.5) {−0.02 (−0.65\%)};
% sell/buy box
\draw[sred,fill=white,rounded corners=3pt] (65,78) rectangle (113,108);
\node[font=\fs{12},text=sred] at (89,97) {SELL};
\node[font=\bfseries\fs{12},text=sred] at (89,85) {3.01};
\node[font=\fs{11}] at (131,90) {0.04};
\draw[blue2,fill=white,rounded corners=3pt] (150,78) rectangle (195,108);
\node[font=\fs{12},text=blue2] at (172,97) {BUY};
\node[font=\bfseries\fs{12},text=blue2] at (172,85) {3.03};
% 12 selector
\draw[sep,fill=white,rounded corners=3pt] (65,116) rectangle (103,136);
\draw[ink,line width=.7pt] (72,124.5)--(76,128)--(80,124.5);
\node[font=\fs{13}] at (92,126) {12};
% pane selectors
\foreach \y in {596,689,790} {\draw[sep,fill=white,rounded corners=3pt] (65,\y-10) rectangle (93,\y+10);
 \draw[ink,line width=.7pt] (75,\y-1.5)--(79,\y+1.5)--(83,\y-1.5);}
\foreach \x/\y in {129/126,119/596,119/689,119/790} {\fill[syncp!14] (\x,\y) circle (9);
 \draw[syncp,line width=1.3pt] (\x,\y) ++(20:5) arc (20:160:5) (\x,\y) ++(200:5) arc (200:340:5);}
% tooltip
\fill[black!82] (27,38)--(21,44)--(33,44)--cycle;
\fill[black!82,rounded corners=3pt] (10,43) rectangle (221,85);
\node[anchor=west,font=\fs{13},text=white!85!black] at (18,55) {Logged in as MahersahamOfficial};
\node[anchor=west,font=\fs{13},text=white!85!black] at (18,73) {Active layout: INtraswing 1D};
% big sell
\fill[sred,rounded corners=2pt] (411,81) rectangle (450,113);
\fill[sred] (422,113)--(430,120)--(438,113)--cycle;
\node[font=\fs{12.5},text=white] at (430,97) {Sell};
% drawing floating toolbar
\fill[white,rounded corners=5pt,draw=black!6] (540,100) rectangle (640,137);
\foreach \x in {549,554} \foreach \y in {112,117,122,127} \fill[black!20] (\x,\y) circle (1);
\foreach \x/\a/\b in {570/1/5,608/A/C} {\draw[ink,line width=.6pt] (\x+1,127)--(\x+8,120)--(\x+15,127)--(\x+22,120);
 \foreach \d/\e in {1/127,8/120,15/127,22/120} \draw[ink,fill=white,line width=.6pt] (\x+\d,\e) circle (1.8);
 \node[font=\bfseries\fs{8}] at (\x+8,111) {\a}; \node[font=\bfseries\fs{8}] at (\x+22,111) {\b};}
% price tag
\fill[rounded corners=2pt,fill={rgb,255:red,0;green,230;blue,118}] (915,200) rectangle (997,217);
\node[anchor=west,font=\fs{12.5},text=black] at (919,208.5) {RVIEW};
\node[anchor=west,font=\fs{12.5},text=black] at (969,208.5) {3.06};
% bolt
\fill[purp] (908,558)--(902,566)--(906,566)--(904,572)--(910,564)--(906,564)--cycle;
% tv logo
\fill[white] (65,981) rectangle (100,1002);
\fill[black] (68,984) rectangle (81,988) (74,984) rectangle (81,1000);
\fill[black] (84,986) circle (2.4);
\fill[black] (92,984)--(98,984)--(88,1000)--(81.5,1000)--cycle;
% left icons
\begin{scope}[ink,line width=.85pt]
\draw (18,113)--(34,97);\draw[fill=white] (18,113) circle (2) (34,97) circle (2);
\draw (14,134)--(37,134) (14,144)--(34,144) (14,154)--(37,154);\draw[fill=white] (37,144) circle (2);
\draw (18,190)--(20,172)--(32,176)--(35,188)--(18,190)--(32,176);\draw[fill=white] (18,190) circle (2) (20,172) circle (2) (32,176) circle (2) (35,188) circle (2);
\draw (17,207)--(17,228) (17,209)--(36,209) (17,218)--(30,218) (17,227)--(36,227);\draw[fill=white] (24,218) circle (2);
\draw (17,267)..controls(20,255)and(24,262)..(25,256)..controls(27,250)..(38,248);\draw (25,256)..controls(30,258)..(32,255);
\draw[line width=1pt] (19,288)--(33,288) (26,288)--(26,303);
\draw (26,333) circle (10);\fill (22,330) circle (1.1) (30,330) circle (1.1);\draw (21,336)..controls(24,341)and(28,341)..(31,336);
\draw (17,388)--(31,374)--(36,379)--(22,393)--cycle (21,384)--(24,387) (25,380)--(28,383) (29,376)--(32,379);
\draw (24,419) circle (7.5) (29.5,425)--(36,431) (20,419)--(28,419) (24,415)--(24,423);
\draw (18,480)--(18,470)..controls(18,461)and(34,461)..(34,470)--(34,480)--(29,480)--(29,470)..controls(29,466)and(23,466)..(23,470)--(23,480)--cycle (18,476)--(23,476) (29,476)--(34,476);
\draw (17,519)--(18,513)--(29,502)--(33,506)--(22,518)--cycle;\draw (27,514) rectangle (36,521);
\draw (18,548) rectangle (34,559) (21,548)--(21,543)..controls(21,538)and(30,538)..(31,543);
\draw (14,587)..controls(20,579)and(32,579)..(38,587)..controls(32,595)and(20,595)..(14,587);\draw (26,587) circle (3);
\draw[line width=1pt] (20,627)--(25,622) (18,630)..controls(14,634)and(20,637)..(23,634)--(27,630) (26,620)--(30,616)..controls(34,613)and(38,619)..(34,622)--(30,626);
\draw (17,667)--(35,667) (22,667)--(22,664)--(30,664)--(30,667) (19,667)--(20,685)--(32,685)--(33,667);
\end{scope}
\fill[black!82,rounded corners=4pt] (9,1024) rectangle (43,1058);
\node[font=\djv\fs{19},text=white] at (26,1041) {☆};
% right icons
\begin{scope}[ink,line width=.85pt]
\draw (1049,56)--(1067,56)--(1067,79)--(1058,75)--(1049,79)--cycle (1053,62)--(1063,62) (1053,66)--(1063,66) (1053,70)--(1063,70);
\draw (1058,111) circle (10) (1058,105)--(1058,112)--(1053,112) (1048,102)--(1051,99) (1068,102)--(1065,99);
\draw (1058,148)--(1069,155)--(1058,162)--(1047,155)--cycle (1047,160)--(1058,167)--(1069,160);
\draw[rounded corners=1pt] (1047,193)rectangle(1069,212);
\fill[white] (1050,211) rectangle (1056,214);
\draw (1050,212)--(1050,217)--(1056,212);
\draw (1058,772) circle (13);\draw (1058,772) circle (6);\draw (1058,772)--(1064,766);
\draw (1045,825)--(1058,806)--(1071,825)--cycle (1048,822)--(1058,815)--(1068,822);
\draw[rounded corners=1.5pt] (1047,851) rectangle (1070,872) (1047,857)--(1070,857) (1052,848)--(1052,854) (1065,848)--(1065,854);
\draw (1048,903)..controls(1060,903)..(1066,917) (1048,909)..controls(1056,909)..(1060,917);\fill (1050,915) circle (1.6);
\draw (1049,963)--(1067,963) (1051,963)--(1051,953)..controls(1052,943)and(1064,943)..(1065,953)--(1065,963) (1055,966)..controls(1056,969)and(1060,969)..(1061,966);
\draw (1058,1056) circle (13);
\end{scope}
\node[font=\bfseries\fs{15}] at (1058,1056) {?};
\fill[red!75!white] (1068,192) circle (8);\node[font=\fs{10},text=white] at (1068,192) {1};
\fill[red!75!white,rounded corners=7pt] (1047,888) rectangle (1076,904);\node[font=\fs{11},text=white] at (1061.5,896) {99+};
\fill[red!75!white] (1065,942) circle (9.5);\node[font=\fs{10.5},text=white] at (1065,942) {59};
\fill[black!85] (1058,997) circle (17);
\foreach \x in {1050,1058,1066} \foreach \y in {993,1001} \fill[white] (\x,\y) circle (2.2);
% bottom bar
\foreach \x/\t in {79/1D,109/5D,140/1M,172/3M,204/6M,239/YTD,272/1Y,300/5Y,329/All} \node[font=\fs{13.5}] at (\x,1061.5) {\t};
\draw[sep] (350,1050)--(350,1072) (989,1050)--(989,1072);
\draw[ink,line width=.8pt] (363,1058)--(363,1054)--(379,1054)--(379,1069)--(373,1069) (363,1059)--(379,1059) (367,1051)--(367,1056) (375,1051)--(375,1056) (363,1066)--(370,1066) (367,1063)--(370,1066)--(367,1069);
\node[font=\fs{13.5}] at (925,1061.5) {12:56:28 UTC+8};
\node[font=\fs{13.5}] at (1008,1061.5) {ADJ};
\end{scope}
\end{tikzpicture}
\end{document}
